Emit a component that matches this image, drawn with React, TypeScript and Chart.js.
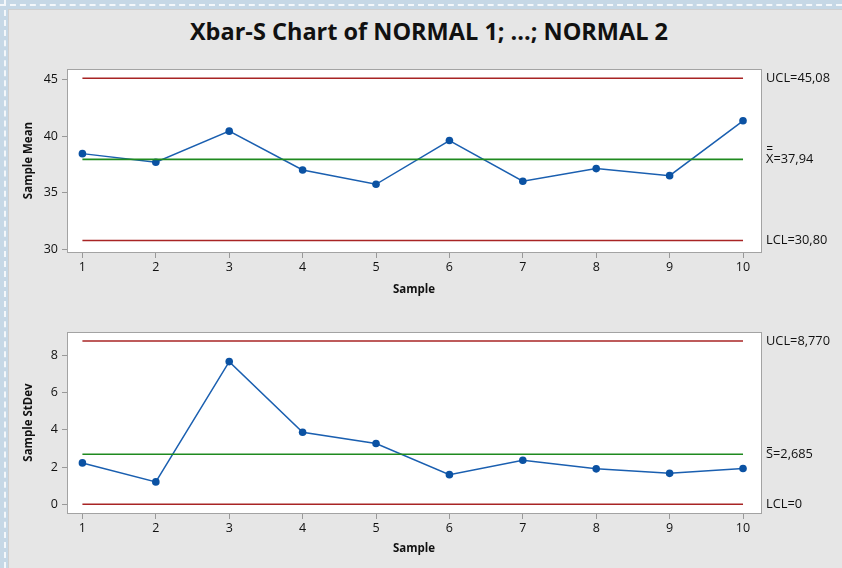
import React, { useEffect, useRef } from "react";
import { Chart, registerables } from "chart.js";
Chart.register(...registerables);

const samples = [1, 2, 3, 4, 5, 6, 7, 8, 9, 10];
const sampleMeans = [38.45, 37.69, 40.43, 37.01, 35.75, 39.6, 36.02, 37.13, 36.51, 41.34];
const sampleStDevs = [2.22, 1.2, 7.66, 3.87, 3.26, 1.59, 2.36, 1.9, 1.66, 1.92];
const meanLimits = [45.08, 37.94, 30.8]; // UCL, center, LCL
const sdLimits = [8.77, 2.685, 0];
const meanLimitLabels = ["UCL=45,08", "X=37,94", "LCL=30,80"];
const sdLimitLabels = ["UCL=8,770", "S=2,685", "LCL=0"];
const meanLimitBars = [0, 2, 0];
const sdLimitBars = [0, 1, 0];
const meanTicks = [30, 35, 40, 45];
const sdTicks = [0, 2, 4, 6, 8];
const titleText = "Xbar-S Chart of NORMAL 1; ...; NORMAL 2";

const FONT = "'Open Sans', 'Noto Sans', sans-serif";
const LINE_BLUE = "#1a5fb0";
const POINT_BLUE = "#0b52a3";
const RED = "#a82424";
const GREEN = "#1f8a1f";

const framePlugin = {
  id: "frame",
  beforeDraw(chart: any) {
    const { ctx, chartArea: a } = chart;
    ctx.save();
    ctx.fillStyle = "#ffffff";
    ctx.fillRect(a.left, a.top, a.right - a.left, a.bottom - a.top);
    ctx.restore();
  },
  afterDraw(chart: any, _args: any, opts: any) {
    const { ctx, chartArea: a } = chart;
    ctx.save();
    ctx.strokeStyle = "#a3a3a3";
    ctx.lineWidth = 1;
    ctx.strokeRect(Math.round(a.left) + 0.5, Math.round(a.top) + 0.5, Math.round(a.right - a.left), Math.round(a.bottom - a.top));
    const yScale = chart.scales.y;
    ctx.fillStyle = "#111";
    ctx.strokeStyle = "#111";
    ctx.font = `12.8px ${FONT}`;
    ctx.textBaseline = "middle";
    ctx.textAlign = "left";
    (opts.values || []).forEach((v: number, i: number) => {
      const py = yScale.getPixelForValue(v);
      const x = a.right + 5;
      ctx.fillText(opts.labels[i], x, py);
      const bars = opts.bars[i];
      if (bars > 0) {
        const w = ctx.measureText(opts.labels[i].charAt(0)).width;
        ctx.lineWidth = 1;
        for (let b = 0; b < bars; b++) {
          const by = Math.round(py - (bars === 2 ? 13 : 7) + b * 3) + 0.5;
          ctx.beginPath();
          ctx.moveTo(x + 1, by);
          ctx.lineTo(x + w - 1, by);
          ctx.stroke();
        }
      }
    });
    ctx.restore();
  },
};

function limitDataset(v: number, color: string) {
  return {
    data: [
      { x: samples[0], y: v },
      { x: samples[samples.length - 1], y: v },
    ],
    borderColor: color,
    borderWidth: 1.6,
    pointRadius: 0,
    fill: false,
  };
}

function buildConfig(opts: {
  values: number[];
  limits: number[];
  labels: string[];
  bars: number[];
  ticks: number[];
  yMin: number;
  yMax: number;
  yTitle: string;
  padding: any;
  xHeight: number;
}) {
  return {
    type: "line",
    data: {
      datasets: [
        limitDataset(opts.limits[0], RED),
        limitDataset(opts.limits[1], GREEN),
        limitDataset(opts.limits[2], RED),
        {
          data: samples.map((s, i) => ({ x: s, y: opts.values[i] })),
          borderColor: LINE_BLUE,
          borderWidth: 1.5,
          pointRadius: 3.8,
          pointBackgroundColor: POINT_BLUE,
          pointBorderColor: POINT_BLUE,
          pointBorderWidth: 0,
          fill: false,
        },
      ],
    },
    options: {
      responsive: false,
      animation: false,
      layout: { padding: opts.padding },
      plugins: {
        legend: { display: false },
        tooltip: { enabled: false },
        frame: { values: opts.limits, labels: opts.labels, bars: opts.bars },
      },
      scales: {
        x: {
          type: "linear",
          min: 0.79,
          max: 10.245,
          afterBuildTicks: (s: any) => {
            s.ticks = samples.map((v) => ({ value: v }));
          },
          afterFit: (s: any) => {
            s.height = opts.xHeight;
          },
          grid: { display: true, drawOnChartArea: false, drawTicks: true, tickLength: 6, color: "#999" },
          border: { display: false },
          ticks: { font: { size: 12.5, family: FONT }, color: "#111", padding: 2, callback: (v: any) => String(v) },
          title: { display: true, text: "Sample", font: { size: 11.5, weight: "bold", family: FONT }, color: "#111", padding: { top: 4, bottom: 4 } },
        },
        y: {
          type: "linear",
          min: opts.yMin,
          max: opts.yMax,
          afterBuildTicks: (s: any) => {
            s.ticks = opts.ticks.map((v) => ({ value: v }));
          },
          afterFit: (s: any) => {
            s.width = 49;
          },
          grid: { display: true, drawOnChartArea: false, drawTicks: true, tickLength: 5, color: "#999" },
          border: { display: false },
          ticks: { font: { size: 12.5, family: FONT }, color: "#111", padding: 4, callback: (v: any) => String(v) },
          title: { display: true, text: opts.yTitle, font: { size: 11.5, weight: "bold", family: FONT }, color: "#111", padding: { top: 4, bottom: 4 } },
        },
      },
    },
    plugins: [framePlugin],
  };
}

export default function App() {
  const topRef = useRef<HTMLCanvasElement>(null);
  const botRef = useRef<HTMLCanvasElement>(null);

  useEffect(() => {
    const c1 = new Chart(
      topRef.current as any,
      buildConfig({
        values: sampleMeans,
        limits: meanLimits,
        labels: meanLimitLabels,
        bars: meanLimitBars,
        ticks: meanTicks,
        yMin: 29.79,
        yMax: 45.9,
        yTitle: "Sample Mean",
        padding: { left: 18, right: 81, top: 69, bottom: 9 },
        xHeight: 49,
      }) as any
    );
    const c2 = new Chart(
      botRef.current as any,
      buildConfig({
        values: sampleStDevs,
        limits: sdLimits,
        labels: sdLimitLabels,
        bars: sdLimitBars,
        ticks: sdTicks,
        yMin: -0.47,
        yMax: 9.25,
        yTitle: "Sample StDev",
        padding: { left: 18, right: 81, top: 22, bottom: 8 },
        xHeight: 47,
      }) as any
    );
    return () => {
      c1.destroy();
      c2.destroy();
    };
  }, []);

  return (
    <div style={{ position: "absolute", left: 0, top: 0, width: 842, height: 568, overflow: "hidden", background: "#c6d8e6" }}>
      <div style={{ position: "absolute", left: 0, top: 4, width: 842, height: 0, borderTop: "2px dashed #f4f8fb" }} />
      <div style={{ position: "absolute", left: 4, top: 0, width: 0, height: 568, borderLeft: "2px dashed #f4f8fb" }} />
      <div style={{ position: "absolute", left: 8, top: 9, width: 834, height: 559, background: "#e6e6e6", borderLeft: "1px solid #d0d0d0", borderTop: "1px solid #d0d0d0" }} />
      <div
        style={{
          position: "absolute",
          left: 8,
          top: 16,
          width: 842,
          height: 30,
          lineHeight: "30px",
          textAlign: "center",
          fontFamily: FONT,
          fontWeight: 700,
          fontSize: 23.5,
          color: "#111",
        }}
      >
        {titleText}
      </div>
      <canvas ref={topRef} width={842} height={310} style={{ position: "absolute", left: 0, top: 0, width: 842, height: 310 }} />
      <canvas ref={botRef} width={842} height={258} style={{ position: "absolute", left: 0, top: 310, width: 842, height: 258 }} />
    </div>
  );
}
